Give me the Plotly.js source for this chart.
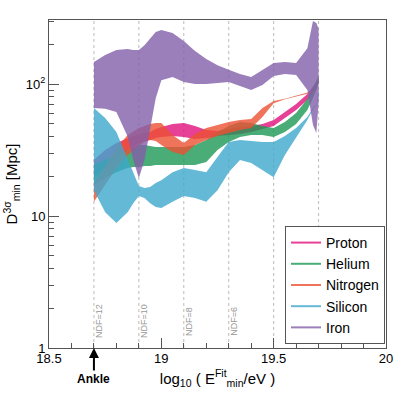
<!DOCTYPE html>
<html>
<head>
<meta charset="utf-8">
<script src="https://cdn.plot.ly/plotly-3.0.1.min.js"></script>
<style>
  html, body { margin: 0; padding: 0; background: #fff; }
  #plot-area { width: 407px; height: 396px; }
</style>
</head>
<body>
<div id="plot-area"></div>
<script>
// log10(E_min/eV) sample points shared by all bands
var logE = [18.7, 18.75, 18.8, 18.85, 18.875, 18.9, 18.925, 18.95, 18.975, 19.0, 19.05, 19.1, 19.15,
            19.2, 19.25, 19.3, 19.35, 19.4, 19.45, 19.5, 19.55, 19.6, 19.65, 19.675, 19.69, 19.7];

// upper / lower edge of each D_min band [Mpc]
var protonHi = [26.6, 31.6, 35.7, 39.0, 40.4, 41.8, 42.5, 43.3, 45.6, 47.2, 49.8, 50.6, 48.1,
                44.8, 44.0, 45.6, 47.2, 48.1, 49.8, 53.4, 61.4, 70.5, 84.0, 96.6, 103.5, 113];
var protonLo = [19.4, 23.1, 27.5, 31.6, 33.9, 35.7, 37.0, 37.6, 39.0, 39.7, 40.4, 39.7, 38.3,
                39.0, 40.4, 41.1, 41.8, 43.3, 45.6, 48.1, 55.3, 63.6, 75.7, 87.0, 93.3, 101.8];
var heliumHi = [24.3, 26.6, 29.5, 32.2, 33.3, 34.5, 34.5, 33.9, 33.3, 33.3, 33.3, 33.3, 34.5,
                37.6, 43.3, 48.1, 51.6, 50.6, 48.1, 46.4, 51.6, 60.3, 76.9, 93.3, 103.5, 115];
var heliumLo = [17.2, 19.4, 21.5, 23.1, 23.5, 23.5, 23.9, 23.9, 24.3, 24.3, 24.3, 24.3, 24.3,
                25.6, 31.6, 36.4, 39.7, 41.1, 41.1, 39.7, 43.3, 49.8, 63.6, 78.3, 90.1, 103.5];
var nitrogenHi = [17.8, 24.3, 32.7, 41.1, 44.0, 46.4, 48.1, 49.8, 50.6, 50.6, 41.1, 35.7, 41.8,
                  46.4, 48.9, 51.5, 53.4, 54.3, 65.8, 74.3, 77.5, 81.5, 85.5, 88.5, 91, 101];
var nitrogenLo = [12.8, 17.2, 23.1, 29.0, 31.6, 33.9, 36.4, 37.6, 37.0, 34.5, 30.5, 29.0, 34.5,
                  37.6, 40.4, 42.5, 44.8, 46.4, 56.2, 71.5, 76.5, 80.5, 84.5, 87.5, 90, 100];
var siliconHi = [65.8, 55.3, 43.3, 26.6, 21.5, 16.9, 16.3, 16.6, 17.8, 18.7, 21.5, 23.1, 22.3,
                 21.5, 28.0, 36.4, 37.6, 37.0, 36.4, 36.4, 40.4, 46.4, 56.2, 65.8, 70.5, 90];
var siliconLo = [15.7, 10.7, 8.85, 10.7, 12.5, 14.2, 13.7, 12.5, 11.7, 11.5, 12.8, 14.2, 13.7,
                 12.8, 15.7, 21.5, 26.6, 25.2, 22.3, 19.7, 29.0, 39.0, 53.4, 64, 69, 81];
var ironHi = [147, 166, 181, 184, 181, 181, 197, 223, 248, 257, 243, 212, 178,
              155, 139, 128, 119, 113, 128, 144, 147, 144, 187, 300, 290, 262];
var ironLo = [65.8, 65, 61.4, 40, 26.6, 19.4, 26.6, 44.8, 78, 107, 113, 103.5, 100,
              100, 102, 103.5, 96.6, 90.1, 98.3, 115, 119, 117, 90, 48.9, 42.5, 71.8];

var names = ["Proton", "Helium", "Nitrogen", "Silicon", "Iron"];
var colors = ["rgba(224,17,124,0.8)", "rgba(29,151,84,0.8)", "rgba(236,80,50,0.8)",
              "rgba(61,168,205,0.8)", "rgba(130,95,170,0.8)"];
var upper = [protonHi, heliumHi, nitrogenHi, siliconHi, ironHi];
var lower = [protonLo, heliumLo, nitrogenLo, siliconLo, ironLo];

// NDF markers
var ndfX = [18.7, 18.9, 19.1, 19.3, 19.5, 19.7];
var ndfText = ["NDF=12", "NDF=10", "NDF=8", "NDF=6", "", ""];

var data = [];
for (var i = 0; i < names.length; i++) {
    var xs = logE.concat(logE.slice().reverse());
    var ys = upper[i].concat(lower[i].slice().reverse());
    data.push({
        x: xs, y: ys,
        mode: "lines",
        fill: "toself",
        fillcolor: colors[i],
        line: {width: 0},
        showlegend: false,
        hoverinfo: "skip"
    });
}
// legend entries as lines
for (var i = 0; i < names.length; i++) {
    data.push({
        x: [null], y: [null],
        mode: "lines",
        name: names[i],
        line: {color: colors[i], width: 2}
    });
}

var shapes = [], annotations = [];
for (var i = 0; i < ndfX.length; i++) {
    shapes.push({
        type: "line", xref: "x", yref: "paper",
        x0: ndfX[i], x1: ndfX[i], y0: 0, y1: 1,
        line: {color: "#bbbbbb", width: 1, dash: "dot"},
        layer: "below"
    });
    if (ndfText[i]) {
        annotations.push({
            x: ndfX[i], xref: "x", y: 0.082, yref: "paper",
            xshift: 5, text: ndfText[i], textangle: -90, showarrow: false,
            xanchor: "center", yanchor: "middle",
            font: {size: 9, color: "#999999"}
        });
    }
}
annotations.push({
    x: 18.7, xref: "x", y: 0, yref: "paper",
    text: "<b>Ankle</b>", showarrow: true, ax: 0, ay: 31,
    arrowhead: 2, arrowsize: 1, arrowwidth: 2, arrowcolor: "#000",
    font: {size: 12, color: "#000"}
});

var layout = {
    width: 407, height: 396,
    margin: {l: 49, r: 21, t: 20, b: 48},
    paper_bgcolor: "#fff", plot_bgcolor: "#fff",
    font: {family: "Liberation Sans, Arial, sans-serif", color: "#000"},
    xaxis: {
        range: [18.5, 20],
        tickvals: [18.5, 19, 19.5, 20], ticktext: ["18.5", "19", "19.5", "20"],
        ticks: "inside", ticklen: 10, tickcolor: "#555",
        ticklabelstandoff: -2,
        minor: {ticks: "inside", ticklen: 5, dtick: 0.1, tick0: 18.5, tickcolor: "#555"},
        showline: true, linecolor: "#555", mirror: true,
        showgrid: false, zeroline: false,
        tickfont: {size: 13},
        title: {text: "log<sub>10</sub> ( E<sup>Fit</sup><sub>min</sub>/eV )", font: {size: 15}, standoff: 8}
    },
    yaxis: {
        type: "log", range: [0, 2.485],
        tickvals: [1, 10, 100], ticktext: ["1", "10", "10<sup>2</sup>"],
        ticks: "inside", ticklen: 10, tickcolor: "#555",
        minor: {ticks: "inside", ticklen: 5, tickcolor: "#555",
                tickvals: [2, 3, 4, 5, 6, 7, 8, 9, 20, 30, 40, 50, 60, 70, 80, 90, 200, 300]},
        showline: true, linecolor: "#555", mirror: true,
        showgrid: false, zeroline: false,
        tickfont: {size: 13},
        title: {text: "D<sup>3σ</sup><sub>min</sub> [Mpc]", font: {size: 15}, standoff: 4}
    },
    legend: {
        x: 0.997, y: 0.372, xanchor: "right", yanchor: "top",
        bgcolor: "#fff", bordercolor: "#555", borderwidth: 1,
        font: {size: 14}, itemwidth: 30, tracegroupgap: 0
    },
    shapes: shapes,
    annotations: annotations
};

Plotly.newPlot("plot-area", data, layout, {staticPlot: true});
</script>
</body>
</html>
